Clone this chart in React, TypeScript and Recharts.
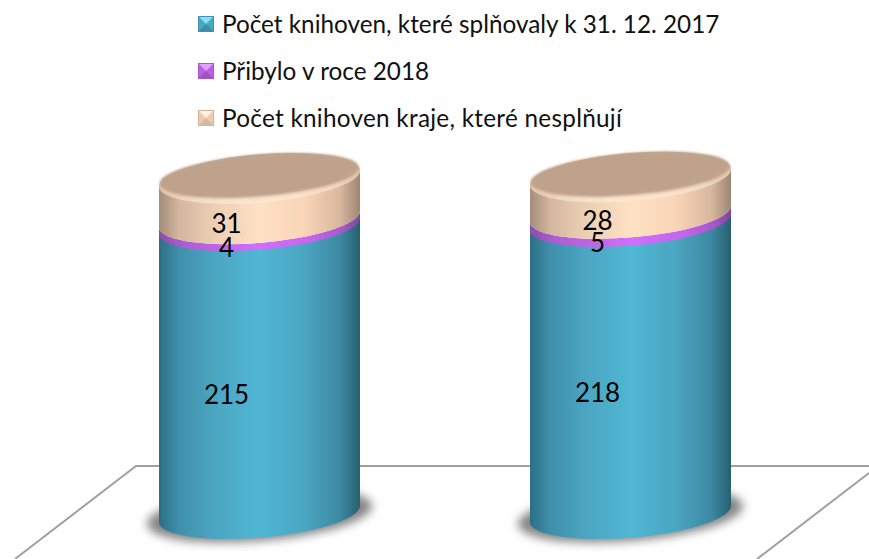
import { Bar, BarChart, LabelList, Legend, XAxis, YAxis } from "recharts";

const categories = ["A", "B"];
const fulfilled = [215, 218];
const added = [4, 5];
const notFulfilled = [31, 28];

const seriesNames = [
  "Počet knihoven, které splňovaly k 31. 12. 2017",
  "Přibylo v roce 2018",
  "Počet knihoven kraje, které nesplňují",
];

const rows = categories.map((name, i) => ({
  name,
  fulfilled: fulfilled[i],
  added: added[i],
  notFulfilled: notFulfilled[i],
}));

const FONT = "Lato, Carlito, Calibri, sans-serif";
const RX = 101;
const RY = 24;
const TILT = 8.5;
const ROT = -4.8;

type BarShape = { x: number; y: number; width: number; height: number };

function band(x: number, w: number, top: number, bottom: number) {
  const arc = `${RX} ${RY} ${ROT} 0`;
  return (
    `M${x} ${top + TILT} A${arc} 0 ${x + w} ${top - TILT}` +
    ` L${x + w} ${bottom - TILT} A${arc} 1 ${x} ${bottom + TILT} Z`
  );
}

function TealShape({ x, y, width, height }: BarShape) {
  const cx = x + width / 2;
  const bottom = y + height;
  return (
    <g>
      <ellipse
        cx={cx}
        cy={bottom}
        rx={RX + 12}
        ry={RY + 2}
        fill="#858585"
        filter="url(#softShadow)"
        transform={`rotate(${ROT} ${cx} ${bottom})`}
      />
      <path d={band(x, width, y, bottom)} fill="url(#tealSide)" />
    </g>
  );
}

function PurpleShape({ x, y, width, height }: BarShape) {
  return <path d={band(x, width, y, y + height + 1.5)} fill="url(#purpleSide)" />;
}

function PeachShape({ x, y, width, height }: BarShape) {
  const cx = x + width / 2;
  return (
    <g>
      <path d={band(x, width, y, y + height)} fill="url(#peachSide)" />
      <ellipse cx={cx} cy={y} rx={RX} ry={RY} fill="url(#capRim)" transform={`rotate(${ROT} ${cx} ${y})`} />
      <ellipse
        cx={cx}
        cy={y - 3}
        rx={RX - 1}
        ry={RY - 3}
        fill="#bfa28c"
        filter="url(#capBlur)"
        transform={`rotate(${ROT} ${cx} ${y})`}
      />
    </g>
  );
}

function ValueLabel(props: any) {
  const { x, y, width, height, value } = props;
  return (
    <text x={x + width / 2 - 33} y={y + height / 2 + 24} textAnchor="middle" dominantBaseline="central" fontFamily={FONT} fontSize={26} fill="#000">
      {value}
    </text>
  );
}

const markerColors = [
  { top: "#86e0f2", side: "#48a7c1", bottom: "#3a8fa9", edge: "#3f93ad" },
  { top: "#e6a0ff", side: "#b862e2", bottom: "#a051c6", edge: "#a557cb" },
  { top: "#fff0e0", side: "#ecccb0", bottom: "#d9b79d", edge: "#d3b299" },
];

// the third line runs a little wider in the reference's font
const legendSpacing = [0, 0, 0.27];

function Marker({ index }: { index: number }) {
  const c = markerColors[index];
  return (
    <svg width={16} height={16} style={{ display: "block" }}>
      <rect width={16} height={16} fill={c.side} />
      <polygon points="1,1 15,1 8,8" fill={c.top} />
      <polygon points="1,15 8,8 15,15" fill={c.bottom} />
      <rect x={0.5} y={0.5} width={15} height={15} fill="none" stroke={c.edge} />
    </svg>
  );
}

function LegendList({ payload }: any) {
  const byName = seriesNames.map((n) => (payload || []).find((p: any) => p.value === n)).filter(Boolean);
  return (
    <div style={{ fontFamily: FONT, fontSize: 24.3, color: "#111", lineHeight: "47px" }}>
      {byName.map((item: any) => {
        const idx = seriesNames.indexOf(item.value);
        return (
          <div key={item.value} style={{ display: "flex", alignItems: "center", height: 47, whiteSpace: "nowrap" }}>
            <Marker index={idx} />
            <span style={{ marginLeft: 8, letterSpacing: legendSpacing[idx] }}>{item.value}</span>
          </div>
        );
      })}
    </div>
  );
}

function Floor() {
  return (
    <g fill="none" stroke="#a0a0a0" strokeWidth={2}>
      <polyline points="15,559 136,466 869,466" />
      <line x1={757} y1={559} x2={869} y2={473} />
    </g>
  );
}

export default function App() {
  return (
    <div style={{ position: "absolute", left: 0, top: 0, width: 869, height: 559, background: "#fff", overflow: "hidden" }}>
      <BarChart
        width={869}
        height={559}
        data={rows}
        barSize={201}
        margin={{ top: 177, right: 53, bottom: 44, left: 74 }}
      >
        <defs>
          <linearGradient id="tealSide" x1="0" y1="0" x2="1" y2="0">
            <stop offset="0" stopColor="#2c6f86" />
            <stop offset="0.1" stopColor="#3f8fab" />
            <stop offset="0.27" stopColor="#4ba5c1" />
            <stop offset="0.5" stopColor="#50b7d4" />
            <stop offset="0.72" stopColor="#4ba6c2" />
            <stop offset="0.9" stopColor="#3e89a3" />
            <stop offset="1" stopColor="#27606f" />
          </linearGradient>
          <linearGradient id="purpleSide" x1="0" y1="0" x2="1" y2="0">
            <stop offset="0" stopColor="#8b4dab" />
            <stop offset="0.12" stopColor="#ad5dd2" />
            <stop offset="0.5" stopColor="#d06ffb" />
            <stop offset="0.75" stopColor="#c566ec" />
            <stop offset="0.92" stopColor="#a558c8" />
            <stop offset="1" stopColor="#7c4699" />
          </linearGradient>
          <linearGradient id="peachSide" x1="0" y1="0" x2="1" y2="0">
            <stop offset="0" stopColor="#a58d7a" />
            <stop offset="0.1" stopColor="#d2b69e" />
            <stop offset="0.27" stopColor="#eccfb3" />
            <stop offset="0.5" stopColor="#fee1c3" />
            <stop offset="0.72" stopColor="#fad5b8" />
            <stop offset="0.9" stopColor="#d8b89e" />
            <stop offset="1" stopColor="#9e8674" />
          </linearGradient>
          <linearGradient id="capRim" x1="0" y1="0" x2="0" y2="1">
            <stop offset="0" stopColor="#c6a992" />
            <stop offset="0.7" stopColor="#e6cbb2" />
            <stop offset="1" stopColor="#ffe8d2" />
          </linearGradient>
          <filter id="softShadow" x="-20%" y="-40%" width="140%" height="180%">
            <feGaussianBlur stdDeviation="5" />
          </filter>
          <filter id="capBlur" x="-5%" y="-15%" width="110%" height="130%">
            <feGaussianBlur stdDeviation="1.2" />
          </filter>
        </defs>
        <Floor />
        <XAxis dataKey="name" hide />
        <YAxis hide domain={[0, 251]} />
        <Legend
          content={<LegendList />}
          layout="vertical"
          verticalAlign="middle"
          align="center"
          wrapperStyle={{ left: 198, top: 0, width: 600, height: 141 }}
        />
        <Bar dataKey="fulfilled" name={seriesNames[0]} stackId="a" fill="#4fb6d2" shape={TealShape as any} isAnimationActive={false}>
          <LabelList dataKey="fulfilled" content={ValueLabel} />
        </Bar>
        <Bar dataKey="added" name={seriesNames[1]} stackId="a" fill="#d06ffb" shape={PurpleShape as any} isAnimationActive={false}>
          <LabelList dataKey="added" content={ValueLabel} />
        </Bar>
        <Bar dataKey="notFulfilled" name={seriesNames[2]} stackId="a" fill="#fee1c3" shape={PeachShape as any} isAnimationActive={false}>
          <LabelList dataKey="notFulfilled" content={ValueLabel} />
        </Bar>
      </BarChart>
    </div>
  );
}
